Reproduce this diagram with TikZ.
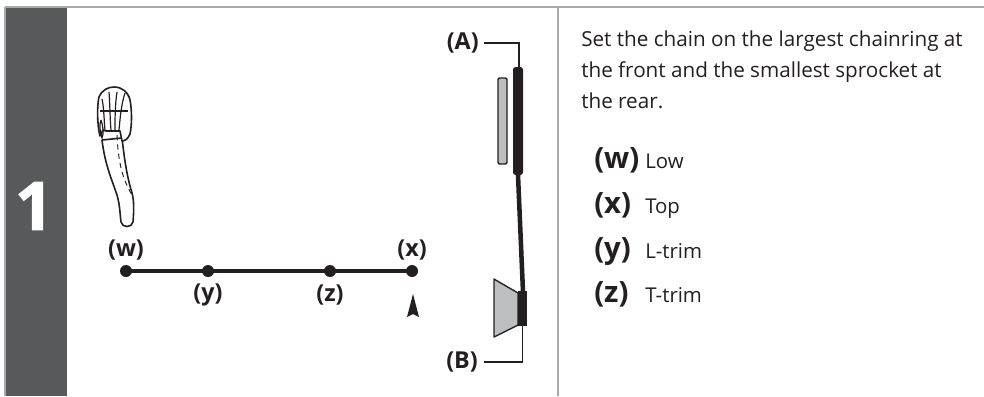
\documentclass[tikz,border=0pt]{standalone}
\usepackage{fontspec}
\setmainfont{Open Sans}
\newfontfamily\heavyfont{Open Sans}[BoldFeatures={FakeBold=1.5}]
\definecolor{panel}{HTML}{58595B}
\definecolor{rule}{HTML}{A7A9AC}
\definecolor{ink}{HTML}{231F20}
\definecolor{part}{HTML}{BCBEC0}
\tikzset{
  x=0.75pt,y=-0.75pt,
  lab/.style={font=\fontsize{17.5}{19}\selectfont\bfseries,text=ink,inner sep=0pt},
  key/.style={font=\fontsize{22}{24}\selectfont\bfseries,text=ink,inner sep=0pt,anchor=base west},
  val/.style={font=\fontsize{15.3}{17}\selectfont,text=ink,inner sep=0pt,anchor=base west},
  dot/.style={circle,fill=ink,minimum size=9pt,inner sep=0pt},
  leverline/.style={draw=ink,line width=1.2pt,line join=round,fill=white},
  thinline/.style={draw=ink,line width=0.9pt},
  leadline/.style={draw=ink,line width=1.3pt},
}
\begin{document}
\begin{tikzpicture}
\useasboundingbox (0,0) rectangle (984,396);
% frame
\fill[panel] (5,7) rectangle (67,396);
\draw[rule,line width=1pt] (5,7) -- (984,7);
\draw[rule,line width=1pt] (5,7) -- (5,396);
\draw[rule,line width=1pt] (558,7) -- (558,396);
\node[font=\heavyfont\fontsize{50}{52}\selectfont\bfseries,text=white,inner sep=0pt] (num) at (34,206) {1};
% lever
\draw[leverline] (102,140) .. controls (105,165) and (112,180) .. (117,195) .. controls (120,205) and (120,215) .. (121,222) .. controls (122,228) and (132,228) .. (133,222) .. controls (134,210) and (134,200) .. (132,193) .. controls (128,180) and (125,165) .. (122,138) -- (102,140);
\draw[leverline] (100,136) .. controls (97,125) and (97,105) .. (99,97) .. controls (102,90) and (108,87) .. (114,87) .. controls (122,87) and (128,92) .. (130,100) .. controls (132,110) and (132,125) .. (130,134) .. controls (128,139) and (125,141) .. (122,141) -- (120,131) -- (109,131) -- (106,131) -- (103,130) -- cycle;
\draw[thinline] (100,111) -- (128,111);
\draw[thinline] (102,99) .. controls (104,108) and (104,120) .. (105,130);
\draw[thinline] (109,92) .. controls (110,105) and (110,120) .. (111,130);
\draw[thinline] (117,92) .. controls (115,105) and (115,120) .. (115,130);
\draw[thinline] (125,93) .. controls (121,105) and (120,120) .. (119,130);
\draw[thinline] (101,120) .. controls (99,125) and (100,132) .. (102,138) .. controls (104,134) and (103,125) .. (101,120);
\draw[ink,line width=0.7pt,dash pattern=on 4pt off 3pt] (117,135) .. controls (118,155) and (120,175) .. (132,195);
% scale
\node[dot] (w) at (126,271) {};
\node[dot] (y) at (208,271) {};
\node[dot] (z) at (330,271) {};
\node[dot] (x) at (412,271) {};
\draw[ink,line width=3pt] (w.center) -- (y.center) -- (z.center) -- (x.center);
\node[lab] (lw) at (126,250) {(w)};
\node[lab] (lx) at (412,250) {(x)};
\node[lab] (ly) at (208,295) {(y)};
\node[lab] (lz) at (330,295) {(z)};
\fill[ink] (413,294) -- (419,317) -- (413,314) -- (407,317) -- cycle;
% derailleur
\fill[part,draw=ink,line width=1pt,rounded corners=1pt] (498,78) rectangle (507,164);
\fill[part,draw=ink,line width=1pt,line join=round] (494,279) -- (518,293) -- (518,325) -- (494,337) -- cycle;
\coordinate (ct) at (518,175);
\coordinate (cb) at (523,292);
\draw[ink,line width=3.4pt] (ct) -- (cb);
\fill[ink,rounded corners=2pt] (513,67) rectangle (523,175);
\fill[ink] (518,291) rectangle (527,326);
\node[lab,anchor=east] (A) at (479,43) {(A)};
\node[lab,anchor=east] (B) at (478,362) {(B)};
\coordinate (at) at (519,67);
\coordinate (bt) at (522.5,326);
\draw[leadline] (484,43) -| (at);
\draw[leadline] (484,362) -| (bt);
% text
\node[font=\fontsize{15.5}{22.9}\selectfont,text=ink,align=left,inner sep=0pt,anchor=north west] (intro) at (581,31) {Set the chain on the largest chainring at\\the front and the smallest sprocket at\\the rear.};
\node[key] (kw) at (594,168) {(w)};
\node[val] (vw) at (645,168) {Low};
\node[key] (kx) at (594,213) {(x)};
\node[val] (vx) at (645,213) {Top};
\node[key] (ky) at (594,258) {(y)};
\node[val] (vy) at (645,258) {L-trim};
\node[key] (kz) at (594,302) {(z)};
\node[val] (vz) at (645,302) {T-trim};
\end{tikzpicture}
\end{document}
